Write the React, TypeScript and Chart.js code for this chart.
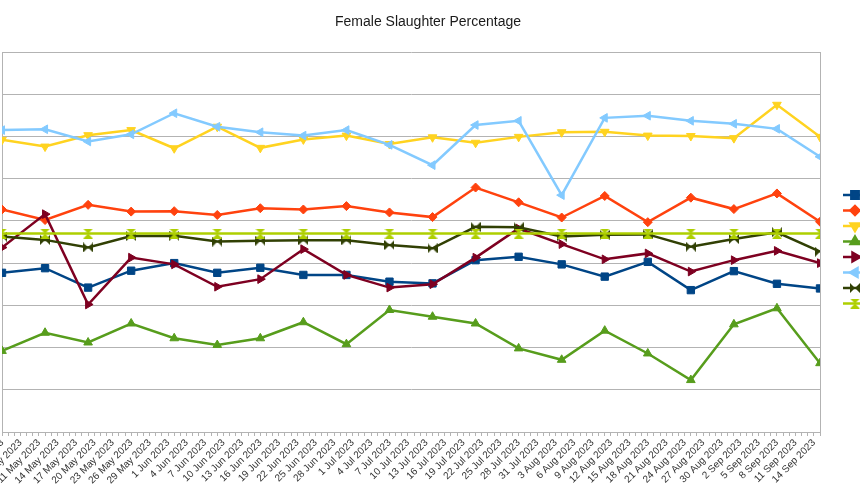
import React, { useEffect, useRef } from 'react';
import { Chart, registerables } from 'chart.js';
import { drawPoint } from 'chart.js/helpers';

Chart.register(...registerables);

// Weekly sample dates (Thursdays)
const sampleDates = [
  '2023-05-04', '2023-05-11', '2023-05-18', '2023-05-25', '2023-06-01',
  '2023-06-08', '2023-06-15', '2023-06-22', '2023-06-29', '2023-07-06',
  '2023-07-13', '2023-07-20', '2023-07-27', '2023-08-03', '2023-08-10',
  '2023-08-17', '2023-08-24', '2023-08-31', '2023-09-07', '2023-09-14',
];

// Female share of slaughter, percent
const series1 = [37.7, 38.8, 34.2, 38.2, 40.0, 37.7, 38.9, 37.2, 37.2, 35.6, 35.2, 40.7, 41.5, 39.7, 36.8, 40.3, 33.6, 38.1, 35.1, 34.0];
const series2 = [52.7, 50.2, 53.8, 52.2, 52.3, 51.4, 53.0, 52.7, 53.5, 52.0, 50.9, 57.9, 54.4, 50.8, 55.9, 49.7, 55.5, 52.8, 56.5, 49.8];
const series3 = [69.2, 67.6, 70.3, 71.5, 67.2, 72.3, 67.3, 69.3, 70.2, 68.2, 69.8, 68.5, 69.9, 71.0, 71.1, 70.2, 70.1, 69.6, 77.5, 69.9];
const series4 = [19.2, 23.5, 21.2, 25.7, 22.2, 20.6, 22.2, 26.0, 20.8, 28.9, 27.3, 25.7, 19.8, 17.1, 24.0, 18.6, 12.3, 25.5, 29.3, 16.3];
const series5 = [43.7, 51.6, 30.2, 41.3, 39.7, 34.4, 36.2, 43.3, 37.2, 34.2, 35.0, 41.3, 48.2, 44.5, 40.9, 42.3, 38.0, 40.7, 42.9, 40.0];
const series6 = [71.5, 71.7, 68.8, 70.5, 75.5, 72.3, 71.0, 70.2, 71.5, 68.0, 63.2, 72.7, 73.7, 56.1, 74.4, 74.9, 73.7, 73.0, 71.8, 65.2];
const series7 = [46.3, 45.5, 43.7, 46.4, 46.5, 45.1, 45.3, 45.4, 45.4, 44.3, 43.5, 48.6, 48.5, 46.3, 46.7, 46.8, 43.9, 45.7, 47.3, 42.7];
const series8 = [47, 47, 47, 47, 47, 47, 47, 47, 47, 47, 47, 47, 47, 47, 47, 47, 47, 47, 47, 47];

// Y axis range and step
const yMin = 0;
const yMax = 90;
const yStep = 10;
// Date tick labels every third day
const labelEvery = 3;

const chartTitle = 'Female Slaughter Percentage';

const monthNames = ['Jan', 'Feb', 'Mar', 'Apr', 'May', 'Jun', 'Jul', 'Aug', 'Sep', 'Oct', 'Nov', 'Dec'];
const DAY = 86400000;

function toUTC(s: string): number {
  const [y, m, d] = s.split('-').map(Number);
  return Date.UTC(y, m - 1, d);
}
const startMs = toUTC(sampleDates[0]);
const dayIndex = (s: string) => Math.round((toUTC(s) - startMs) / DAY);
const lastDay = dayIndex(sampleDates[sampleDates.length - 1]);
const firstLabelDay = lastDay % labelEvery;

function formatDay(i: number): string {
  const d = new Date(startMs + i * DAY);
  return `${d.getUTCDate()} ${monthNames[d.getUTCMonth()]} ${d.getUTCFullYear()}`;
}

function makeMarker(kind: 'bowtie' | 'hourglass', color: string, size = 10): HTMLCanvasElement {
  const c = document.createElement('canvas');
  c.width = size;
  c.height = size;
  const ctx = c.getContext('2d')!;
  ctx.fillStyle = color;
  ctx.beginPath();
  if (kind === 'bowtie') {
    ctx.moveTo(0, 0); ctx.lineTo(size / 2, size / 2); ctx.lineTo(0, size); ctx.closePath();
    ctx.moveTo(size, 0); ctx.lineTo(size / 2, size / 2); ctx.lineTo(size, size); ctx.closePath();
  } else {
    ctx.moveTo(0, 0); ctx.lineTo(size, 0); ctx.lineTo(size / 2, size / 2); ctx.closePath();
    ctx.moveTo(0, size); ctx.lineTo(size, size); ctx.lineTo(size / 2, size / 2); ctx.closePath();
  }
  ctx.fill();
  return c;
}

const colors = ['#004586', '#ff420e', '#ffd320', '#579d1c', '#7e0021', '#83caff', '#314004', '#aecf00'];
const allSeries = [series1, series2, series3, series4, series5, series6, series7, series8];

const gridColor = '#b3b3b3';
const fontFamily = "'Liberation Sans', Arial, sans-serif";

const frameAndLegend = {
  id: 'frameAndLegend',
  beforeDatasetsDraw(chart: any) {
    const { ctx, chartArea } = chart;
    ctx.save();
    ctx.strokeStyle = gridColor;
    ctx.lineWidth = 1;
    ctx.beginPath();
    ctx.moveTo(Math.round(chartArea.right) + 0.5, chartArea.top);
    ctx.lineTo(Math.round(chartArea.right) + 0.5, chartArea.bottom);
    ctx.stroke();
    ctx.restore();
  },
  afterDraw(chart: any) {
    const { ctx, chartArea } = chart;
    // title
    ctx.save();
    ctx.fillStyle = '#1a1a1a';
    ctx.font = `14px ${fontFamily}`;
    ctx.textAlign = 'center';
    ctx.textBaseline = 'middle';
    ctx.fillText(chartTitle, 428, 22);
    ctx.restore();
    // legend keys
    const x0 = chartArea.right + 23;
    const yTop = 195;
    const gap = 15.5;
    chart.data.datasets.forEach((ds: any, i: number) => {
      const y = yTop + i * gap;
      ctx.save();
      ctx.strokeStyle = ds.borderColor;
      ctx.fillStyle = ds.borderColor;
      ctx.lineWidth = ds.borderWidth;
      ctx.beginPath();
      ctx.moveTo(x0, y);
      ctx.lineTo(x0 + 24, y);
      ctx.stroke();
      drawPoint(ctx, {
        pointStyle: ds.pointStyle,
        rotation: ds.pointRotation || 0,
        radius: ds.pointRadius,
        borderWidth: typeof ds.pointStyle === 'string' ? 1 : 0,
      } as any, x0 + 12, y);
      ctx.restore();
    });
  },
};

export default function App() {
  const canvasRef = useRef<HTMLCanvasElement | null>(null);

  useEffect(() => {
    if (!canvasRef.current) return;
    const styles: any[] = [
      { pointStyle: 'rect', pointRadius: 5.2 },
      { pointStyle: 'rectRot', pointRadius: 4.5 },
      { pointStyle: 'triangle', pointRotation: 180, pointRadius: 5 },
      { pointStyle: 'triangle', pointRadius: 5 },
      { pointStyle: 'triangle', pointRotation: 90, pointRadius: 5 },
      { pointStyle: 'triangle', pointRotation: 270, pointRadius: 5 },
      { pointStyle: makeMarker('bowtie', colors[6]), pointRadius: 5 },
      { pointStyle: makeMarker('hourglass', colors[7]), pointRadius: 5 },
    ];
    const datasets = allSeries.map((vals, i) => ({
      data: vals.map((v, j) => ({ x: dayIndex(sampleDates[j]), y: v })),
      borderColor: colors[i],
      backgroundColor: colors[i],
      pointBackgroundColor: colors[i],
      pointBorderColor: colors[i],
      pointBorderWidth: typeof styles[i].pointStyle === 'string' ? 1 : 0,
      borderWidth: 2.5,
      tension: 0,
      order: allSeries.length - i,
      ...styles[i],
    }));

    const chart = new Chart(canvasRef.current, {
      type: 'line',
      data: { datasets },
      plugins: [frameAndLegend],
      options: {
        responsive: false,
        animation: false,
        events: [],
        layout: { autoPadding: false, padding: { left: 2, right: 40, top: 52, bottom: 0 } },
        plugins: {
          legend: { display: false },
          tooltip: { enabled: false },
          title: { display: false },
        },
        scales: {
          x: {
            type: 'linear',
            min: 0,
            max: lastDay,
            afterBuildTicks: (scale: any) => {
              const t = [];
              for (let i = 0; i <= lastDay; i++) t.push({ value: i });
              scale.ticks = t;
            },
            afterFit: (scale: any) => {
              scale.height = 68;
              scale.paddingLeft = 0;
              scale.paddingRight = 0;
            },
            ticks: {
              autoSkip: false,
              minRotation: 45,
              maxRotation: 45,
              color: '#333',
              padding: 1,
              labelOffset: -6,
              font: { family: fontFamily, size: 10 },
              callback: (v: any) => {
                const i = Number(v);
                return (i - firstLabelDay) % labelEvery === 0 ? formatDay(i) : '';
              },
            },
            grid: {
              drawOnChartArea: false,
              drawTicks: true,
              tickLength: 4,
              color: gridColor,
            },
            border: { display: true, color: gridColor },
          },
          y: {
            min: yMin,
            max: yMax,
            afterFit: (scale: any) => {
              scale.width = 0;
              scale.paddingTop = 0;
              scale.paddingBottom = 0;
            },
            ticks: { display: false, stepSize: yStep },
            grid: { color: gridColor, drawTicks: false },
            border: { display: true, color: gridColor },
          },
        },
      } as any,
    });
    return () => chart.destroy();
  }, []);

  return (
    <div style={{ position: 'fixed', left: 0, top: 0, width: 860, height: 500, background: '#fff' }}>
      <canvas ref={canvasRef} width={860} height={500} style={{ display: 'block' }} />
    </div>
  );
}
